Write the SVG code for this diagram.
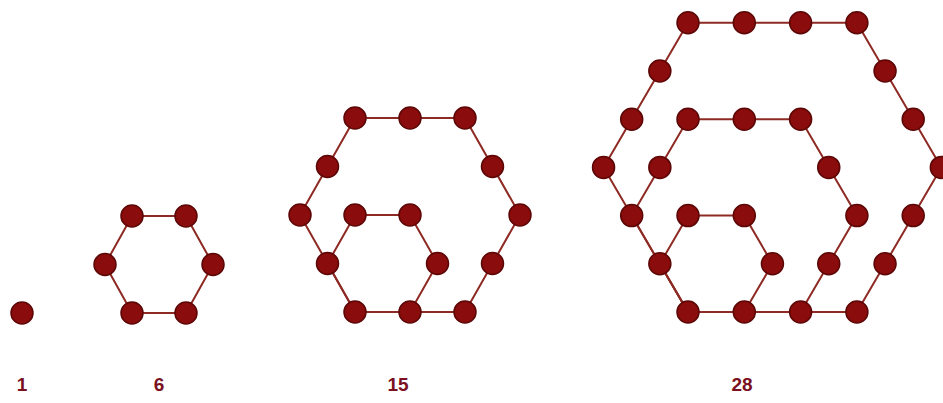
<svg xmlns="http://www.w3.org/2000/svg" width="943" height="403" viewBox="0 0 943 403">
<style>
.edge{fill:none;stroke:#8e2a24;stroke-width:2;stroke-linejoin:round}
.dot{fill:#8a0c0c;stroke:#5c0606;stroke-width:1.5}
.lbl{font-family:"Liberation Sans",Arial,sans-serif;font-weight:bold;font-size:19px;fill:#7a1020;text-anchor:middle}
</style>
<rect width="943" height="403" fill="#ffffff"/>
<g id="connectors">
<polygon class="edge" points="132,313 186,313 213,264.5 186,216 132,216 105,264.5"/>
<polygon class="edge" points="355,312 465,312 520,215 465,118 355,118 300,215"/>
<polygon class="edge" points="355,312 410,312 437.5,263.5 410,215 355,215 327.5,263.5"/>
<polygon class="edge" points="688,312 856.9,312 941.35,167.4 856.9,22.8 688,22.8 603.55,167.4"/>
<polygon class="edge" points="688,312 800.6,312 856.9,215.6 800.6,119.2 688,119.2 631.7,215.6"/>
<polygon class="edge" points="688,312 744.3,312 772.45,263.8 744.3,215.6 688,215.6 659.85,263.8"/>
</g>
<g id="fig-1">
<circle class="dot" cx="22" cy="313" r="11"/>
<text class="lbl" x="22" y="391">1</text>
</g>
<g id="fig-6">
<circle class="dot" cx="132" cy="313" r="11"/>
<circle class="dot" cx="186" cy="313" r="11"/>
<circle class="dot" cx="213" cy="264.5" r="11"/>
<circle class="dot" cx="186" cy="216" r="11"/>
<circle class="dot" cx="132" cy="216" r="11"/>
<circle class="dot" cx="105" cy="264.5" r="11"/>
<text class="lbl" x="159" y="391">6</text>
</g>
<g id="fig-15">
<circle class="dot" cx="355" cy="312" r="11"/>
<circle class="dot" cx="410" cy="312" r="11"/>
<circle class="dot" cx="465" cy="312" r="11"/>
<circle class="dot" cx="492.5" cy="263.5" r="11"/>
<circle class="dot" cx="520" cy="215" r="11"/>
<circle class="dot" cx="492.5" cy="166.5" r="11"/>
<circle class="dot" cx="465" cy="118" r="11"/>
<circle class="dot" cx="410" cy="118" r="11"/>
<circle class="dot" cx="355" cy="118" r="11"/>
<circle class="dot" cx="327.5" cy="166.5" r="11"/>
<circle class="dot" cx="300" cy="215" r="11"/>
<circle class="dot" cx="327.5" cy="263.5" r="11"/>
<circle class="dot" cx="437.5" cy="263.5" r="11"/>
<circle class="dot" cx="410" cy="215" r="11"/>
<circle class="dot" cx="355" cy="215" r="11"/>
<text class="lbl" x="398" y="391">15</text>
</g>
<g id="fig-28">
<circle class="dot" cx="688" cy="312" r="11"/>
<circle class="dot" cx="744.3" cy="312" r="11"/>
<circle class="dot" cx="800.6" cy="312" r="11"/>
<circle class="dot" cx="856.9" cy="312" r="11"/>
<circle class="dot" cx="885.05" cy="263.8" r="11"/>
<circle class="dot" cx="913.2" cy="215.6" r="11"/>
<circle class="dot" cx="941.35" cy="167.4" r="11"/>
<circle class="dot" cx="913.2" cy="119.2" r="11"/>
<circle class="dot" cx="885.05" cy="71" r="11"/>
<circle class="dot" cx="856.9" cy="22.8" r="11"/>
<circle class="dot" cx="800.6" cy="22.8" r="11"/>
<circle class="dot" cx="744.3" cy="22.8" r="11"/>
<circle class="dot" cx="688" cy="22.8" r="11"/>
<circle class="dot" cx="659.85" cy="71" r="11"/>
<circle class="dot" cx="631.7" cy="119.2" r="11"/>
<circle class="dot" cx="603.55" cy="167.4" r="11"/>
<circle class="dot" cx="631.7" cy="215.6" r="11"/>
<circle class="dot" cx="659.85" cy="263.8" r="11"/>
<circle class="dot" cx="828.75" cy="263.8" r="11"/>
<circle class="dot" cx="856.9" cy="215.6" r="11"/>
<circle class="dot" cx="828.75" cy="167.4" r="11"/>
<circle class="dot" cx="800.6" cy="119.2" r="11"/>
<circle class="dot" cx="744.3" cy="119.2" r="11"/>
<circle class="dot" cx="688" cy="119.2" r="11"/>
<circle class="dot" cx="659.85" cy="167.4" r="11"/>
<circle class="dot" cx="772.45" cy="263.8" r="11"/>
<circle class="dot" cx="744.3" cy="215.6" r="11"/>
<circle class="dot" cx="688" cy="215.6" r="11"/>
<text class="lbl" x="742" y="391">28</text>
</g>
</svg>
